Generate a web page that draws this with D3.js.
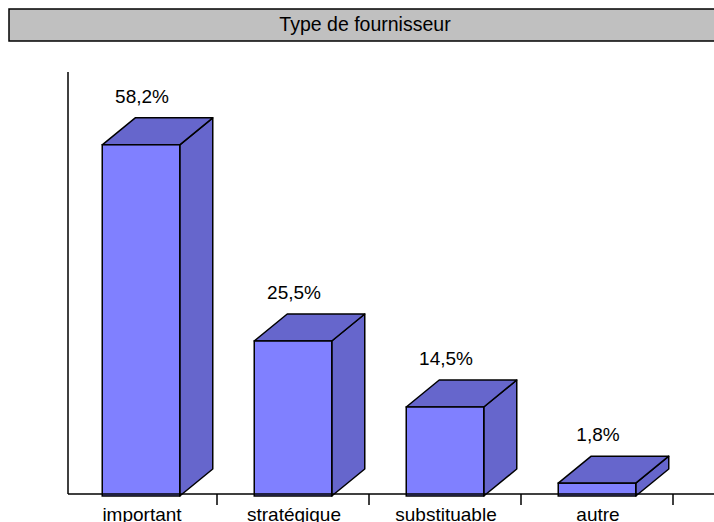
<!DOCTYPE html>
<meta charset="utf-8">
<style>
body { margin: 0; background: #fff; }
text { font-family: "Liberation Sans", Arial, sans-serif; }
</style>
<body>
<script src="https://d3js.org/d3.v7.min.js"></script>
<script>
// chart data
var categories = ["important", "stratégique", "substituable", "autre"];
var values = [58.2, 25.5, 14.5, 1.8];
var labels = ["58,2%", "25,5%", "14,5%", "1,8%"];
var title = "Type de fournisseur";

var width = 714, height = 522;
var baseY = 494, axisX = 68;
var dx = 33, dy = 27; // 3d depth

var svg = d3.select("body").append("svg")
    .attr("width", width)
    .attr("height", height);

// title box
svg.append("rect")
    .attr("x", 9).attr("y", 9)
    .attr("width", 720).attr("height", 32)
    .attr("fill", "#c0c0c0")
    .attr("stroke", "#000")
    .attr("stroke-width", 1.5);
svg.append("text")
    .attr("x", 365).attr("y", 31)
    .attr("text-anchor", "middle")
    .attr("font-size", 19.5)
    .text(title);

// scales
var x = d3.scaleBand().domain(categories).range([65, 673]).padding(0);
var y = d3.scaleLinear().domain([0, 70]).range([baseY, 74]);
var bw = x.bandwidth() * 0.51;

var bars = svg.selectAll("g.bar")
    .data(values)
  .enter().append("g")
    .attr("class", "bar");

bars.each(function(d, i) {
    var g = d3.select(this);
    var x0 = x(categories[i]) + (x.bandwidth() - bw) / 2, x1 = x0 + bw;
    var yt = y(d), yb = baseY + 2;
    // side
    g.append("path")
        .attr("d", "M" + x1 + "," + yb + "L" + (x1 + dx) + "," + (yb - dy) +
            "L" + (x1 + dx) + "," + (yt - dy) + "L" + x1 + "," + yt + "Z")
        .attr("fill", "#6666cc").attr("stroke", "#000").attr("stroke-width", 1.5)
        .attr("stroke-linejoin", "round");
    // top
    g.append("path")
        .attr("d", "M" + x0 + "," + yt + "L" + (x0 + dx) + "," + (yt - dy) +
            "L" + (x1 + dx) + "," + (yt - dy) + "L" + x1 + "," + yt + "Z")
        .attr("fill", "#6666cc").attr("stroke", "#000").attr("stroke-width", 1.5)
        .attr("stroke-linejoin", "round");
    // front
    g.append("rect")
        .attr("x", x0).attr("y", yt)
        .attr("width", bw).attr("height", yb - yt)
        .attr("fill", "#8080ff").attr("stroke", "#000").attr("stroke-width", 1.5);
    // value label
    g.append("text")
        .attr("x", (x0 + x1) / 2 + 1)
        .attr("y", yt - dy - 15)
        .attr("text-anchor", "middle")
        .attr("font-size", 19)
        .text(labels[i]);
});

// axes
svg.append("line")
    .attr("x1", axisX).attr("x2", axisX)
    .attr("y1", 72).attr("y2", baseY)
    .attr("stroke", "#000").attr("stroke-width", 1.5);
svg.append("line")
    .attr("x1", axisX).attr("x2", width)
    .attr("y1", baseY).attr("y2", baseY)
    .attr("stroke", "#000").attr("stroke-width", 1.5);

svg.selectAll("line.tick")
    .data(categories)
  .enter().append("line")
    .attr("class", "tick")
    .attr("x1", function(d) { return x(d) + x.bandwidth(); })
    .attr("x2", function(d) { return x(d) + x.bandwidth(); })
    .attr("y1", baseY).attr("y2", baseY + 11)
    .attr("stroke", "#000").attr("stroke-width", 1.5);

svg.selectAll("text.cat")
    .data(categories)
  .enter().append("text")
    .attr("class", "cat")
    .attr("x", function(d) { return x(d) + x.bandwidth() / 2 + 1; })
    .attr("y", 521)
    .attr("text-anchor", "middle")
    .attr("font-size", 19)
    .text(function(d) { return d; });
</script>
</body>
